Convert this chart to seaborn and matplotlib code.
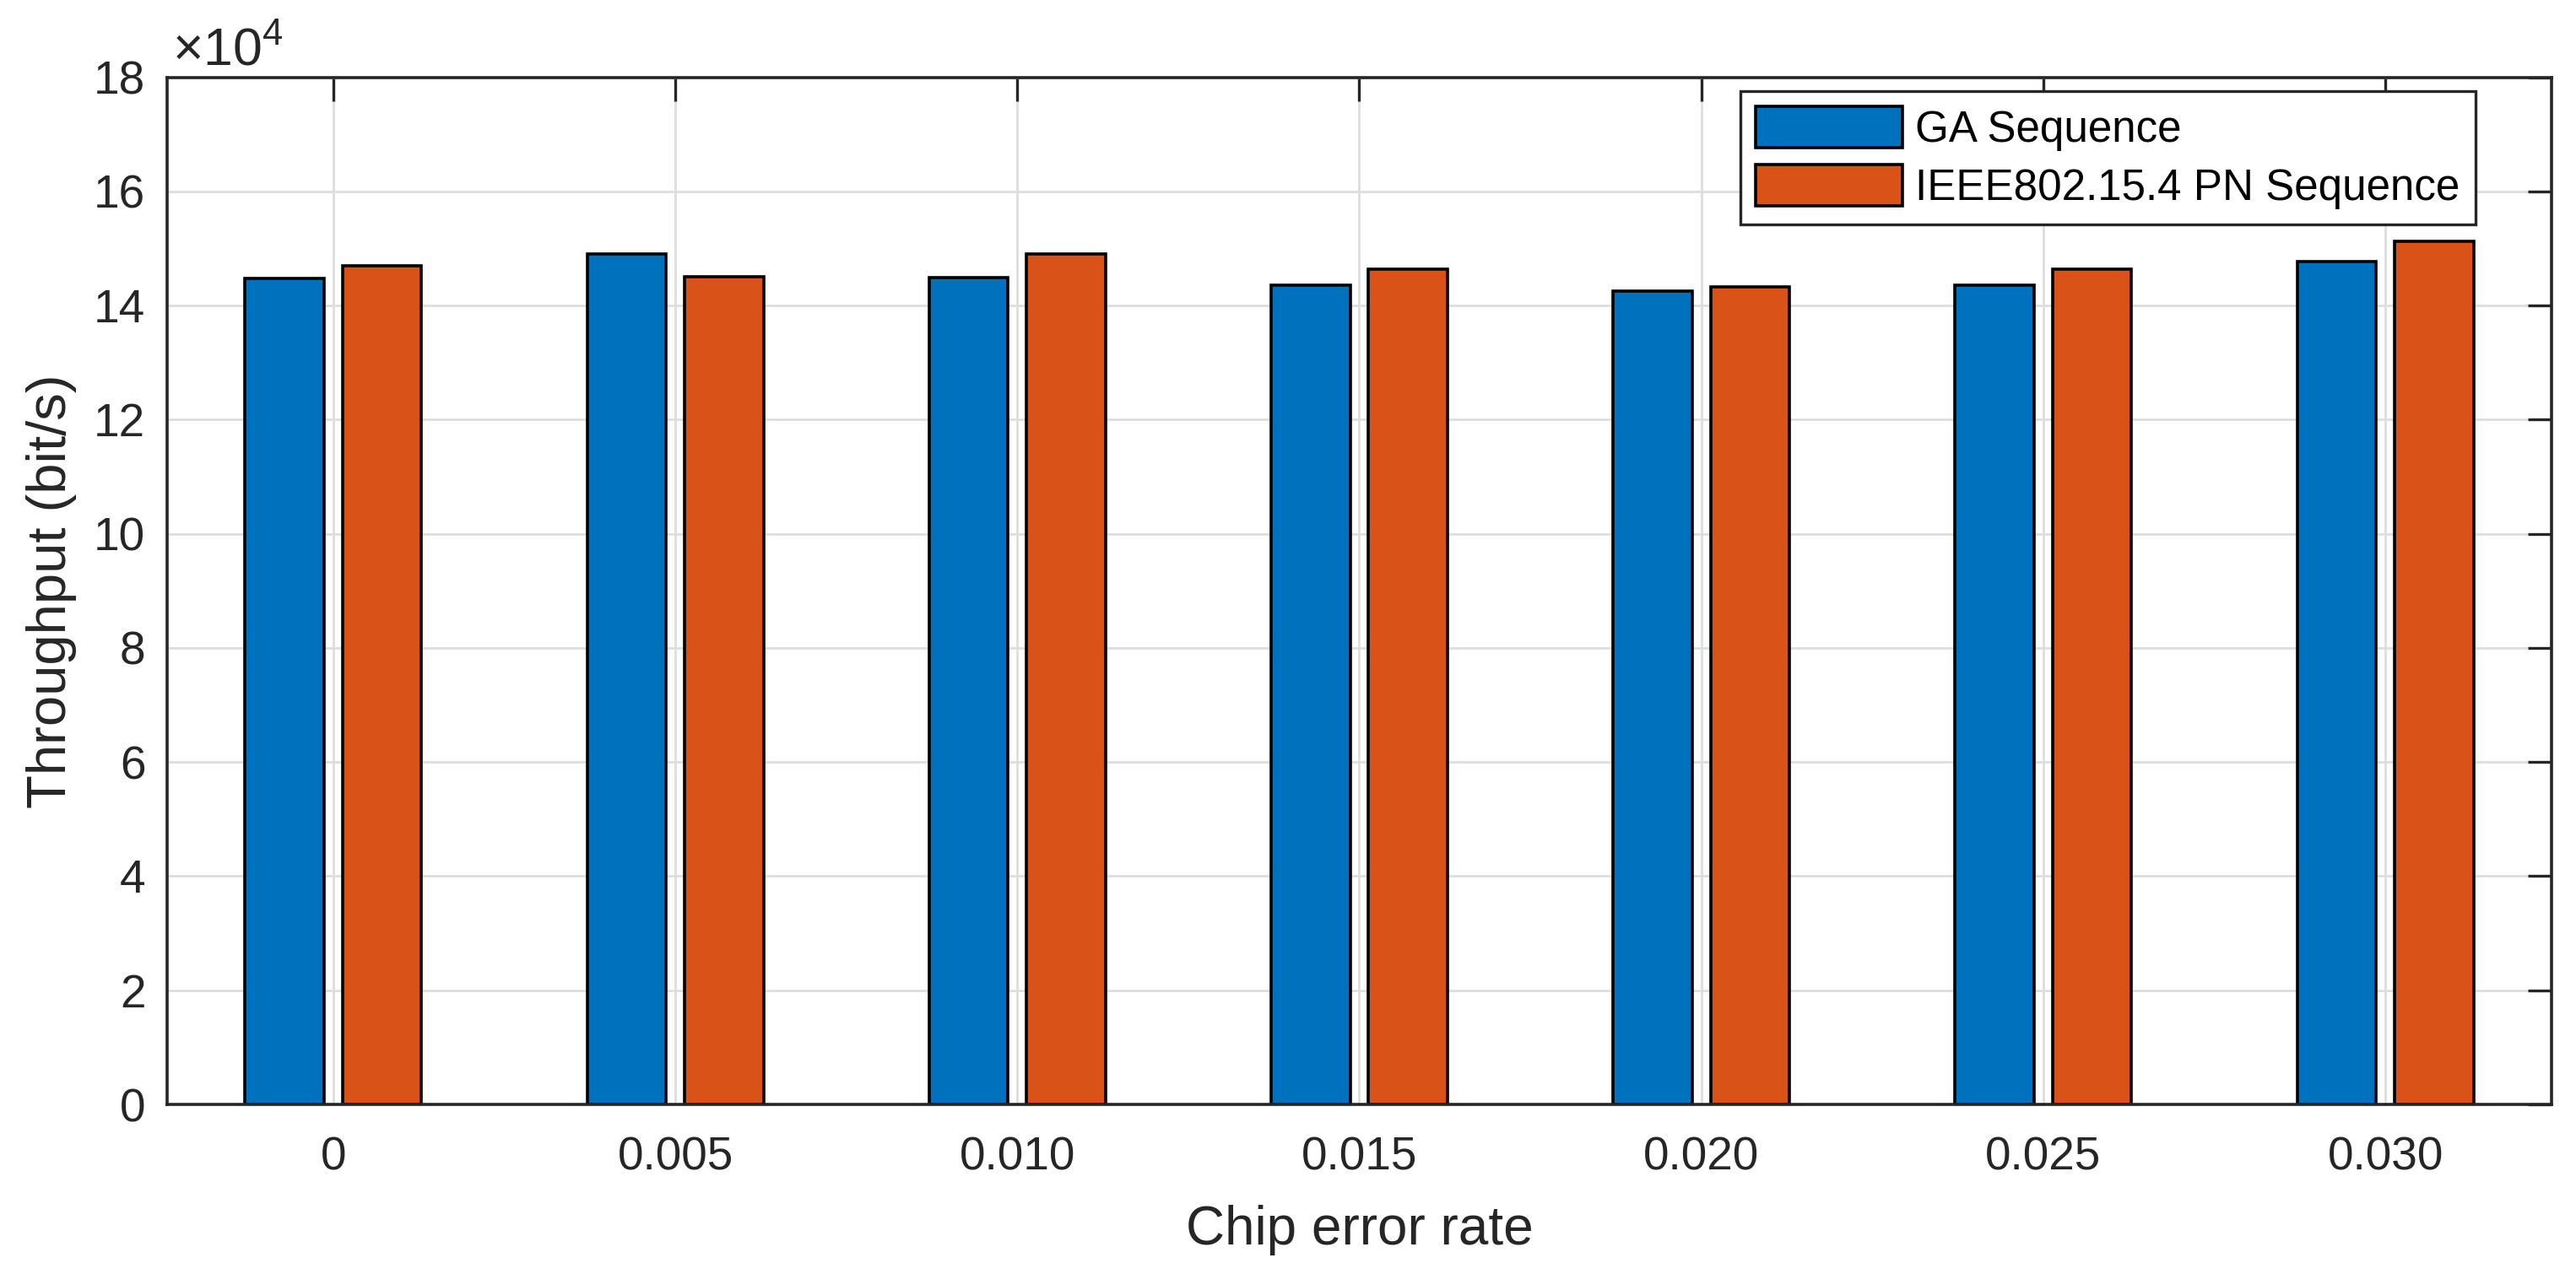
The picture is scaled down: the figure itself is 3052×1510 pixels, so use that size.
import pandas as pd
import matplotlib
matplotlib.use('Agg')
import matplotlib.pyplot as plt
import matplotlib.patches as mpatches
import matplotlib.ticker as mtick
import seaborn as sns

# Data (throughput in bit/s)
error_rates = ['0', '0.005', '0.010', '0.015', '0.020', '0.025', '0.030']
ga_throughput = [144700, 149000, 144900, 143600, 142500, 143600, 147700]
pn_throughput = [147000, 145000, 149100, 146400, 143300, 146300, 151300]
series_names = ['GA Sequence', 'IEEE802.15.4 PN Sequence']
y_ticks = list(range(0, 180001, 20000))

df = pd.DataFrame({'Chip error rate': error_rates,
                   series_names[0]: ga_throughput,
                   series_names[1]: pn_throughput})
long_df = df.melt(id_vars=['Chip error rate'], var_name='Series', value_name='Throughput')

sns.set_style('white')
plt.rcParams['font.family'] = ['Liberation Sans', 'DejaVu Sans']
plt.rcParams['mathtext.fontset'] = 'custom'
plt.rcParams['mathtext.rm'] = 'Liberation Sans'
plt.rcParams['mathtext.it'] = 'Liberation Sans:italic'

dark = '#262626'
colors = {series_names[0]: '#0072BD', series_names[1]: '#D95319'}

fig = plt.figure(figsize=(15.26, 7.55), dpi=200)
ax = fig.add_axes([0.065, 0.1331, 0.9255, 0.8063])

sns.barplot(data=long_df, x='Chip error rate', y='Throughput', hue='Series',
            order=error_rates, hue_order=series_names, palette=colors,
            width=0.57, gap=0.19, edgecolor='black', linewidth=1.3,
            saturation=1, legend=False, ax=ax)

ax.set_xlim(-0.485, 6.486)
ax.set_ylim(0, 180000)
ax.set_yticks(y_ticks)
ax.yaxis.set_major_formatter(mtick.FuncFormatter(lambda v, _: f'{v / 1e4:g}'))

ax.set_axisbelow(True)
ax.grid(True, axis='both', color='#dedede', linewidth=1.0)
for s in ax.spines.values():
    s.set_visible(True)
    s.set_color(dark)
    s.set_linewidth(1.3)

ax.tick_params(direction='in', top=True, right=True, length=10, width=1.2,
               color=dark, labelcolor=dark, labelsize=19.8)
ax.tick_params(axis='x', pad=13.5)
ax.tick_params(axis='y', pad=9.4)

ax.set_xlabel('Chip error rate', fontsize=23, color=dark)
ax.set_ylabel('Throughput (bit/s)', fontsize=23.5, color=dark)
ax.xaxis.set_label_coords(0.5, -0.0977)
ax.yaxis.set_label_coords(-0.038, 0.5)

# exponent label in the MATLAB style
ax.text(0.002, 1.012, r'$\times10^{4}$', transform=ax.transAxes,
        fontsize=22.5, color=dark, ha='left', va='baseline')

handles = [mpatches.Patch(facecolor=colors[n], edgecolor='black', linewidth=1.3, label=n)
           for n in series_names]
leg = ax.legend(handles=handles, loc='upper right', bbox_to_anchor=(0.968, 0.9865),
                borderaxespad=0, fontsize=18.4, frameon=True, fancybox=False,
                framealpha=1, edgecolor=dark, borderpad=0.35, handletextpad=0.3,
                labelspacing=0.32, handlelength=3.4, handleheight=1.1)
leg.get_frame().set_linewidth(1.2)
for t in leg.get_texts():
    t.set_color('black')

fig.savefig('out.png', dpi=200, facecolor='white')
